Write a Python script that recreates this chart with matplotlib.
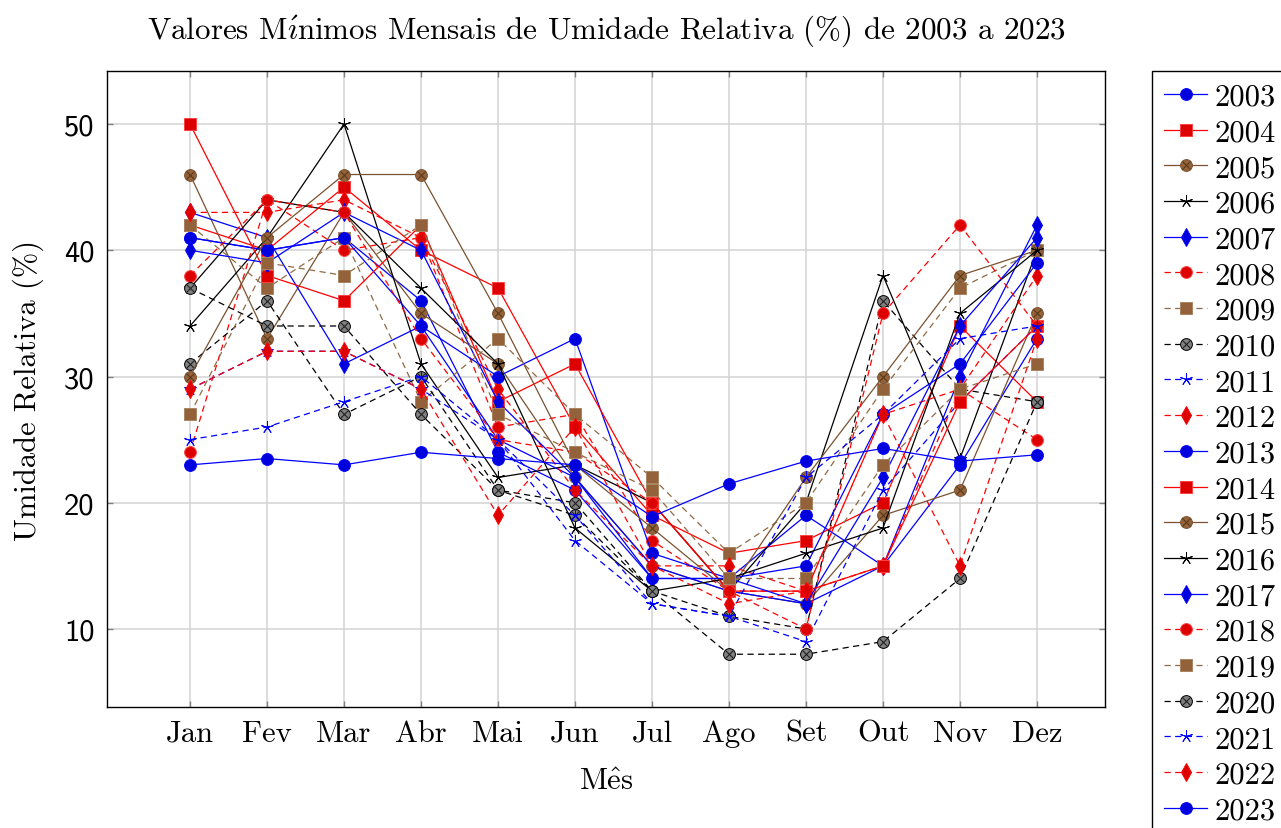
import matplotlib
matplotlib.use("Agg")
import matplotlib.pyplot as plt
from matplotlib.legend_handler import HandlerTuple

months = ["Jan", "Fev", "Mar", "Abr", "Mai", "Jun", "Jul", "Ago", "Set", "Out", "Nov", "Dez"]
years = [str(y) for y in range(2003, 2024)]

v2003 = [41, 40, 41, 36, 24, 21, 14, 14, 19, 15, 23, 33]
v2004 = [42, 40, 45, 40, 37, 26, 19, 16, 17, 20, 34, 28]
v2005 = [46, 33, 43, 35, 31, 22, 15, 13, 12, 19, 21, 35]
v2006 = [34, 41, 50, 31, 22, 23, 20, 13, 20, 38, 23.5, 40]
v2007 = [43, 41, 31, 34, 25, 22, 15, 13, 12, 15, 30, 42]
v2008 = [24, 44, 40, 41, 26, 27, 17, 13, 13, 27, 29, 25]
v2009 = [42, 37, 41, 28, 33, 27, 22, 16, 20, 29, 37, 40]
v2010 = [31, 36, 27, 30, 21, 19, 13, 11, 10, 36, 29, 28]
v2011 = [25, 26, 28, 30, 25, 17, 12, 11, 9, 21, 28, 34]
v2012 = [43, 43, 44, 41, 29, 21, 15, 15, 13, 15, 29, 38]
v2013 = [41, 40, 41, 34, 30, 33, 16, 14, 15, 27, 31, 39]
v2014 = [50, 38, 36, 42, 28, 31, 20, 13, 13, 15, 28, 34]
v2015 = [30, 41, 46, 46, 35, 23, 18, 13, 22, 30, 38, 40]
v2016 = [37, 44, 43, 37, 31, 18, 13, 14, 16, 18, 35, 40]
v2017 = [40, 39, 43, 40, 28, 22, 14, 14, 12, 22, 34, 41]
v2018 = [38, 44, 43, 33, 25, 24, 20, 13, 10, 35, 42, 34]
v2019 = [27, 39, 38, 42, 27, 24, 21, 14, 14, 23, 29, 31]
v2020 = [37, 34, 34, 27, 21, 20, 13, 8, 8, 9, 14, 28]
v2021 = [29, 32, 32, 29, 25, 19, 12, 11, 22, 27, 33, 34]
v2022 = [29, 32, 32, 29, 19, 26, 15, 12, 13, 27, 15, 33]
v2023 = [23, 23.5, 23, 24, 23.5, 23, 18.9, 21.5, 23.3, 24.3, 23.3, 23.8]

values = [v2003, v2004, v2005, v2006, v2007, v2008, v2009, v2010, v2011, v2012,
          v2013, v2014, v2015, v2016, v2017, v2018, v2019, v2020, v2021, v2022, v2023]

BLUE, RED, BROWN, BLACK = "#0000ff", "#ff0000", "#7a5230", "#000000"
STAR = (5, 2, 0)
DASH = (0, (5, 3.5))
styles = [
    dict(color=BLUE, ls="-", marker="o", mfc="#0000dd", mec=BLUE, ms=8.5, ox=False),
    dict(color=RED, ls="-", marker="s", mfc="#dd0000", mec="#ff4040", ms=8, ox=False),
    dict(color=BROWN, ls="-", marker="o", mfc="#94623a", mec="#7a5230", ms=8.5, ox=True),
    dict(color=BLACK, ls="-", marker=STAR, mfc=BLACK, mec=BLACK, ms=9, ox=False),
    dict(color=BLUE, ls="-", marker="d", mfc="#0000dd", mec=BLUE, ms=9, ox=False),
    dict(color=RED, ls=DASH, marker="o", mfc="#dd0000", mec="#ff4040", ms=8.5, ox=False),
    dict(color="#8f6a45", ls=DASH, marker="s", mfc="#94623a", mec="#a88460", ms=8, ox=False),
    dict(color=BLACK, ls=DASH, marker="o", mfc="#808080", mec=BLACK, ms=8.5, ox=True),
    dict(color=BLUE, ls=DASH, marker=STAR, mfc=BLUE, mec=BLUE, ms=9, ox=False),
    dict(color=RED, ls=DASH, marker="d", mfc="#dd0000", mec=RED, ms=9, ox=False),
]

SERIF = ["cmr10", "DejaVu Serif"]
FS = 22
plt.rcParams["axes.formatter.use_mathtext"] = True
plt.rcParams["mathtext.fontset"] = "cm"

fig = plt.figure(figsize=(12.81, 8.29), dpi=100)
ax = fig.add_axes([107 / 1281, 1 - 708 / 829, (1105 - 107) / 1281, (708 - 72) / 829])
x = list(range(len(months)))

handles = []
for i, (yr, vals) in enumerate(zip(years, values)):
    st = styles[i % 10]
    z = 3 + i * 0.01
    ln, = ax.plot(x, vals, color=st["color"], ls=st["ls"], lw=0.9, marker=st["marker"],
                  ms=st["ms"], mfc=st["mfc"], mec=st["mec"], mew=0.7, zorder=z)
    if st["ox"]:
        xc = "#222222" if st["mfc"] == "#808080" else "#5a3a1a"
        xl, = ax.plot(x, vals, ls="none", marker="x", ms=5.5, mec=xc, mew=0.8, zorder=z + 0.005)
        handles.append((ln, xl))
    else:
        handles.append(ln)

ax.set_xlim(-1.078, 11.883)
ax.set_ylim(3.82, 54.2)
ax.set_xticks(x)
ax.set_xticklabels(months, family=SERIF, fontsize=FS)
ax.set_yticks([10, 20, 30, 40, 50])
ax.set_yticklabels(["10", "20", "30", "40", "50"], family=["cmss10", "DejaVu Sans"], fontsize=FS)
ax.grid(True, color="#d3d3d3", lw=1.1, zorder=0)
ax.set_axisbelow(True)
ax.tick_params(direction="in", length=4, width=1, color="#808080", top=True, right=True, pad=9)
for s in ax.spines.values():
    s.set_linewidth(1.0)
    s.set_color("black")

ax.set_xlabel(r"M$\mathrm{\hat{e}}$s", family=SERIF, fontsize=FS, labelpad=15)
ax.set_ylabel("Umidade Relativa (%)", family=SERIF, fontsize=FS, labelpad=14)
ax.set_title(r"Valores M$\acute{\imath}$nimos Mensais de Umidade Relativa (%) de 2003 a 2023",
             family=SERIF, fontsize=22.4, pad=24)

leg = fig.legend(handles, years, loc="upper left", bbox_to_anchor=(1152 / 1281, 1 - 72 / 829),
                 prop={"family": SERIF, "size": FS}, handler_map={tuple: HandlerTuple(ndivide=1)},
                 frameon=True, fancybox=False, edgecolor="black", framealpha=1,
                 handlelength=1.4, handletextpad=0.25, labelspacing=0.27, borderpad=0.4,
                 borderaxespad=0)
leg.get_frame().set_linewidth(1.0)

fig.savefig("out.png", dpi=100)
